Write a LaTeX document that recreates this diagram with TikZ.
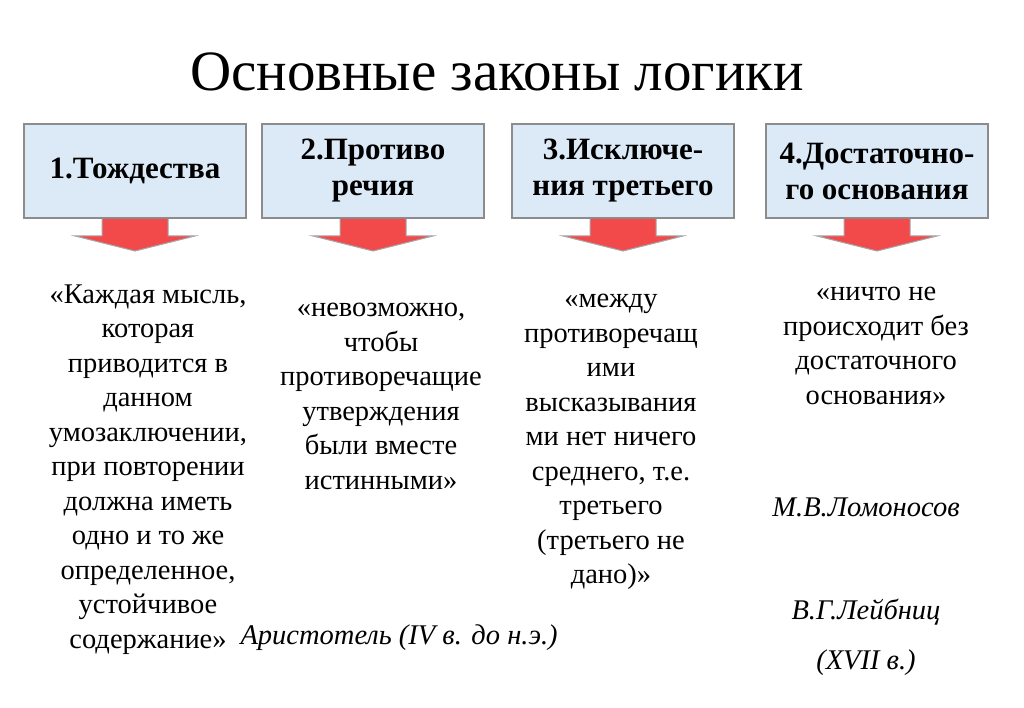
\documentclass[tikz,border=0pt]{standalone}
\usepackage{fontspec}
\setmainfont{Liberation Serif}
\definecolor{boxblue}{HTML}{DCEAF8}
\definecolor{arrred}{HTML}{F24A4A}
\begin{document}
\begin{tikzpicture}[x=1pt,y=-1pt,
  lawbox/.style={draw=gray!90,line width=2pt,fill=boxblue,minimum width=222pt,minimum height=94pt,align=center,font=\bfseries\fontsize{31}{36}\selectfont},
  body/.style={align=center,font=\fontsize{28.5}{34.5}\selectfont,anchor=north},
  auth/.style={font=\itshape\fontsize{28.5}{34}\selectfont},
  redarrow/.style={fill=arrred,draw=gray!70,line width=1pt}]
\useasboundingbox (0,0) rectangle (1024,708);
\node[font=\fontsize{57}{60}\selectfont] (title) at (497,72) {Основные законы логики};
\foreach \n/\cx/\t in {1/135/{1.Тождества},2/373/{2.Противо\\речия},3/623/{3.Исключе-\\ния третьего},4/877/{4.Достаточно-\\го основания}}{
  \node[lawbox] (b\n) at (\cx,171) {\t};
  \draw[redarrow] (b\n.south) ++(-33,0) -- ++(0,17) -- ++(-27,0) -- ++(60,15) -- ++(60,-15) -- ++(-27,0) -- ++(0,-17);
}
\node[body] (t1) at (148,281) {«Каждая мысль,\\которая\\приводится в\\данном\\умозаключении,\\при повторении\\должна иметь\\одно и то же\\определенное,\\устойчивое\\содержание»};
\node[auth,anchor=west] (a1) at (237,638) {Аристотель (IV в. до н.э.)};
\node[body] (t2) at (381,300) {«невозможно,\\чтобы\\противоречащие\\утверждения\\были вместе\\истинными»};
\node[body] (t3) at (611,291) {«между\\противоречащ\\ими\\высказывания\\ми нет ничего\\среднего, т.е.\\третьего\\(третьего не\\дано)»};
\node[body] (t4) at (876,284) {«ничто не\\происходит без\\достаточного\\основания»};
\node[auth] (a4) at (866,507) {М.В.Ломоносов};
\node[auth] (a5) at (866,612) {В.Г.Лейбниц};
\node[auth] (a6) at (866,663) {(XVII в.)};
\end{tikzpicture}
\end{document}
